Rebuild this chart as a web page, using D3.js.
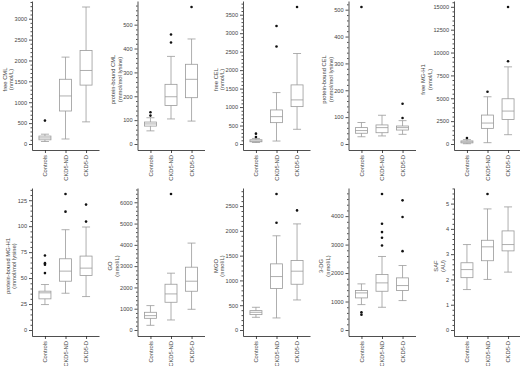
<!DOCTYPE html>
<html>
<head>
<meta charset="utf-8">
<script src="https://cdn.jsdelivr.net/npm/d3@7"></script>
<style>
  body { margin: 0; background: #fff; }
  svg text { font-family: "Liberation Sans", Arial, sans-serif; fill: #444; }
</style>
</head>
<body>
<div id="chart"></div>
<script>
var categories = ['Controls', 'CKD5-ND', 'CKD5-D']

// [low whisker, q1, median, q3, high whisker, outliers]
var freeCML = [
  [60, 100, 145, 190, 235, [560]],
  [120, 790, 1150, 1550, 2080, []],
  [530, 1410, 1760, 2240, 3280, []]
]
var pbCML = [
  [55, 75, 84, 92, 110, [119, 133]],
  [105, 161, 198, 250, 367, [425, 459]],
  [96, 194, 271, 334, 440, [574]]
]
var freeCEL = [
  [40, 60, 80, 115, 150, [190, 280]],
  [80, 578, 741, 922, 1392, [2640, 3193]],
  [398, 1012, 1194, 1600, 2450, [3709]]
]
var pbCEL = [
  [27, 40, 50, 61, 80, [510]],
  [30, 42, 61, 71, 107, []],
  [36, 52, 61, 67, 87, [97, 150]]
]
var freeMGH1 = [
  [30, 120, 230, 340, 480, [650]],
  [145, 1709, 2290, 3164, 5164, [5709]],
  [1018, 2690, 3600, 4945, 8436, [9054, 14980]]
]
var pbMGH1 = [
  [24.5, 30, 35.8, 37.4, 43.8, [54.8, 62.8, 64.4, 71.8]],
  [35.4, 47, 56.7, 68.6, 96.6, [114, 131]],
  [32.2, 52.5, 59.6, 71.2, 99.2, [104.4, 120.8]]
]
var GO = [
  [220, 549, 675, 832, 1146, []],
  [471, 1303, 1695, 2150, 2669, [6389]],
  [973, 1821, 2292, 2951, 4082, []]
]
var MGO = [
  [256, 310, 357, 391, 458, []],
  [243, 836, 1078, 1334, 1900, [2163, 2743]],
  [606, 923, 1186, 1402, 2140, [2412]]
]
var DG3 = [
  [892, 1127, 1303, 1385, 1620, [540, 622]],
  [798, 1361, 1655, 1948, 2582, [2969, 3239, 3439, 3732, 4777]],
  [1033, 1385, 1561, 1831, 2265, [2770, 3967, 4554]]
]
var SAF = [
  [1.6, 2.07, 2.39, 2.66, 3.38, []],
  [2.0, 2.74, 3.29, 3.55, 4.79, [5.38]],
  [2.29, 3.13, 3.38, 3.92, 4.87, []]
]

var panelData = [freeCML, pbCML, freeCEL, pbCEL, freeMGH1, pbMGH1, GO, MGO, DG3, SAF]
var titles = ['free CML', 'protein-bound CML', 'free CEL', 'protein-bound CEL', 'free MG-H1',
  'protein-bound MG-H1', 'GO', 'MGO', '3-DG', 'SAF']
var units = ['(nmol/L)', '(mmol/mol lysine)', '(nmol/L)', '(mmol/mol lysine)', '(nmol/L)',
  '(mmol/mol lysine)', '(nmol/L)', '(nmol/L)', '(nmol/L)', '(AU)']
var tickSteps = [500, 100, 500, 100, 2500, 25, 1000, 500, 1000, 1]

var width = 520, height = 366
var svg = d3.select('#chart').append('svg').attr('width', width).attr('height', height)

var rows = [{top: 1, bottom: 150}, {top: 188, bottom: 336}]
var colStep = 105.5, axisX0 = 32, xLen = 67

panelData.forEach(function(data, i){
  var row = rows[Math.floor(i/5)], col = i % 5
  var ax = axisX0 + col*colStep
  var g = svg.append('g')

  var max = d3.max(data, d => d3.max([d[4]].concat(d[5])))
  var y = d3.scaleLinear().domain([0, max]).range([row.bottom - 6, row.top + 6])
  var yAx = d3.scaleLinear().domain([y.invert(row.bottom), y.invert(row.top)]).range([row.bottom, row.top])
  var x = d3.scalePoint().domain(categories).range([ax, ax + xLen]).padding(0.63)

  var step = tickSteps[i]
  var major = d3.range(0, yAx.domain()[1], step)
  var minor = d3.range(0, yAx.domain()[1], step/5).filter(v => Math.abs(v/step - Math.round(v/step)) > 1e-6)

  // minor ticks
  g.append('g')
    .attr('transform', 'translate(' + ax + ',0)')
    .call(d3.axisLeft(yAx).tickValues(minor).tickSize(1.5).tickFormat(''))
    .call(s => s.select('.domain').remove())

  var yAxisG = g.append('g')
    .attr('transform', 'translate(' + ax + ',0)')
    .call(d3.axisLeft(yAx).tickValues(major).tickSize(3).tickSizeOuter(0).tickPadding(2).tickFormat(d3.format('d')))
  yAxisG.selectAll('text').style('font-size', '5.6px').attr('fill', '#444')

  var xAxisG = g.append('g')
    .attr('transform', 'translate(0,' + row.bottom + ')')
    .call(d3.axisBottom(x).tickSize(3).tickSizeOuter(0).tickPadding(2))
  xAxisG.selectAll('text')
    .style('font-size', '5.8px').attr('fill', '#444')
    .attr('text-anchor', 'end').attr('dy', '0.32em')
    .attr('transform', 'rotate(-90)').attr('x', -5).attr('y', 0)

  g.selectAll('.domain, .tick line').attr('stroke', '#222').attr('stroke-width', 0.8)

  // axis title, placed left of the widest tick label
  var labelLeft = d3.min(yAxisG.selectAll('text').nodes(), n => n.getBBox().x) + ax
  var midY = (y(0) + y(max))/2 + 4
  var title = g.append('text')
    .attr('transform', 'translate(' + (labelLeft - 8) + ',' + midY + ') rotate(-90)')
    .attr('text-anchor', 'middle').style('font-size', '5.8px')
  title.append('tspan').attr('x', 0).attr('dy', 0).text(titles[i])
  title.append('tspan').attr('x', 0).attr('dy', '1.15em').text(units[i])

  // boxes
  var bw = 12, cw = 8
  var boxes = g.selectAll('g.box').data(data).join('g').attr('class', 'box')
    .attr('transform', (d, j) => 'translate(' + x(categories[j]) + ',0)')
    .attr('stroke', '#9a9a9a').attr('stroke-width', 0.8).attr('fill', 'none')

  boxes.append('line').attr('y1', d => y(d[0])).attr('y2', d => y(d[1]))
  boxes.append('line').attr('y1', d => y(d[3])).attr('y2', d => y(d[4]))
  boxes.append('line').attr('x1', -cw/2).attr('x2', cw/2).attr('y1', d => y(d[0])).attr('y2', d => y(d[0]))
  boxes.append('line').attr('x1', -cw/2).attr('x2', cw/2).attr('y1', d => y(d[4])).attr('y2', d => y(d[4]))
  boxes.append('rect').attr('x', -bw/2).attr('width', bw)
    .attr('y', d => y(d[3])).attr('height', d => y(d[1]) - y(d[3]))
  boxes.append('line').attr('x1', -bw/2).attr('x2', bw/2).attr('y1', d => y(d[2])).attr('y2', d => y(d[2]))
  boxes.selectAll('circle').data(d => d[5]).join('circle')
    .attr('r', 1.3).attr('cy', d => y(d)).attr('fill', '#111').attr('stroke', 'none')
})
</script>
</body>
</html>
